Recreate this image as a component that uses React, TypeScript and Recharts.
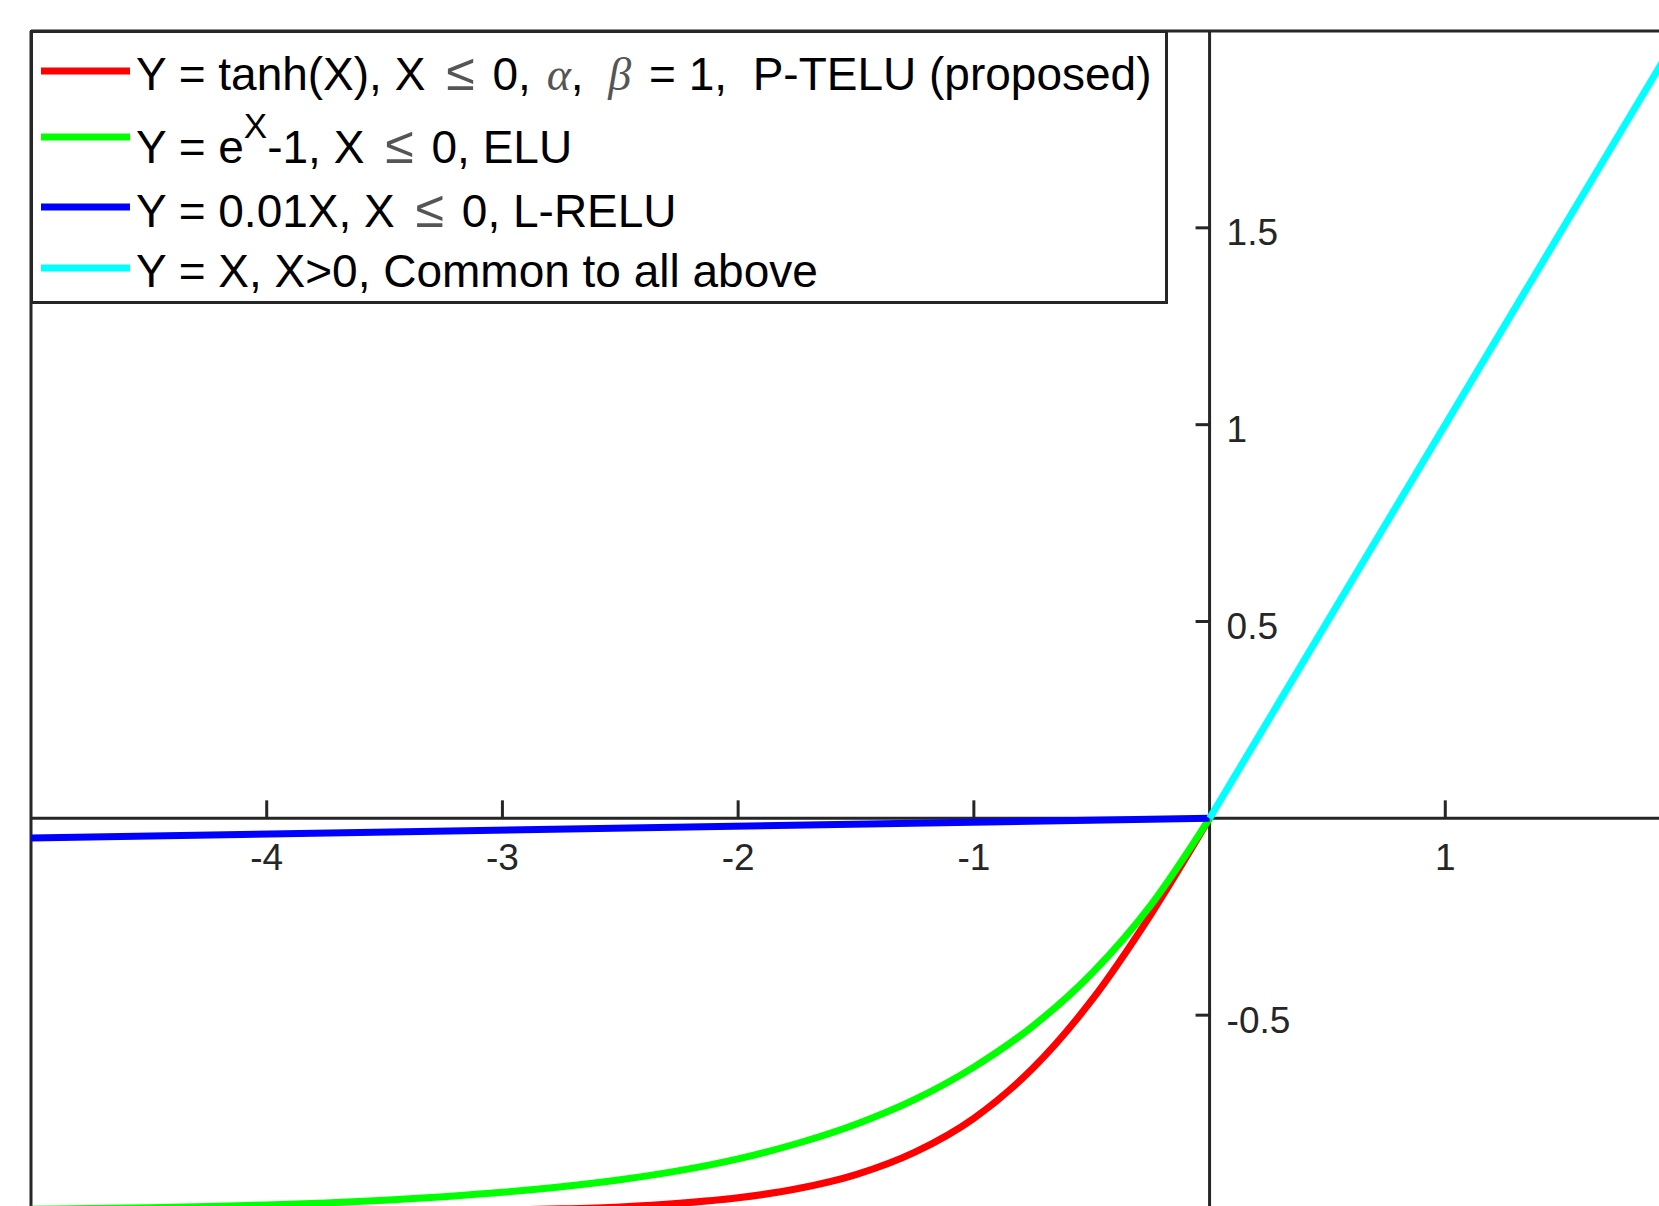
import React from 'react';
import { LineChart, Line, XAxis, YAxis, ReferenceLine, ReferenceDot, Legend } from 'recharts';

// sampled x positions for the x <= 0 branch
const xNeg = [-5, -4.75, -4.5, -4.25, -4, -3.75, -3.5, -3.25, -3, -2.75, -2.5, -2.25, -2, -1.75, -1.5, -1.25, -1, -0.75, -0.5, -0.25, 0];
// P-TELU, Y = tanh(X)
const teluY = [-1.0, -1.0, -1.0, -1.0, -0.999, -0.999, -0.998, -0.997, -0.995, -0.992, -0.987, -0.978, -0.964, -0.941, -0.905, -0.848, -0.762, -0.635, -0.462, -0.245, 0];
// ELU, Y = e^X - 1
const eluY = [-0.993, -0.991, -0.989, -0.986, -0.982, -0.977, -0.970, -0.961, -0.950, -0.936, -0.918, -0.895, -0.865, -0.826, -0.777, -0.714, -0.632, -0.528, -0.394, -0.221, 0];
// L-RELU
const lreluX = [-5, 0];
const lreluY = [-0.05, 0];
// X > 0 branch
const posX = [0, 2];
const posY = [0, 2];

const xTicks = [-4, -3, -2, -1, 1];
const yTicks = [-0.5, 0.5, 1, 1.5];

const colors = ['#ff0000', '#00ff00', '#0000ff', '#00ffff'];

const toPoints = (xs: number[], ys: number[]) => xs.map((x, i) => ({ x, y: ys[i] }));

const teluData = toPoints(xNeg, teluY);
const eluData = toPoints(xNeg, eluY);
const lreluData = toPoints(lreluX, lreluY);
const posData = toPoints(posX, posY);

const AXIS = '#262626';
const FONT = '"Liberation Sans", Arial, Helvetica, sans-serif';
const TEX = '"Liberation Serif", "Times New Roman", serif';

function XTickMark({ cx, cy, text }: any) {
  return (
    <g>
      <line x1={cx} y1={cy} x2={cx} y2={cy - 18} stroke={AXIS} strokeWidth={3} />
      <text x={cx} y={cy + 39} textAnchor="middle" dominantBaseline="central" fontSize={37} fontFamily={FONT} fill={AXIS}>
        {text}
      </text>
    </g>
  );
}

function YTickMark({ cx, cy, text }: any) {
  return (
    <g>
      <line x1={cx} y1={cy} x2={cx - 14} y2={cy} stroke={AXIS} strokeWidth={3} />
      <text x={cx + 17} y={cy + 5} textAnchor="start" dominantBaseline="central" fontSize={37} fontFamily={FONT} fill={AXIS}>
        {text}
      </text>
    </g>
  );
}

const leq = (
  <tspan dx={8} fontSize={52} fill="#555">≤</tspan>
);

function LegendBox() {
  const rowLine = [41, 107, 177, 238];
  const rowBase = [60, 133, 197, 257];
  const texts = [
    <>
      {'Y = tanh(X), X '}
      {leq}
      <tspan dx={5}>{' 0, '}</tspan>
      <tspan dx={3} fontFamily={TEX} fontStyle="italic" fill="#555">α</tspan>
      <tspan>{', '}</tspan>
      <tspan dx={12} fontFamily={TEX} fontStyle="italic" fill="#555">β</tspan>
      <tspan dx={5}>{' = 1,  P-TELU (proposed)'}</tspan>
    </>,
    <>
      {'Y = e'}
      <tspan dy={-25} fontSize={35}>X</tspan>
      <tspan dy={25}>{'-1, X '}</tspan>
      {leq}
      <tspan dx={5}>{' 0, ELU'}</tspan>
    </>,
    <>
      {'Y = 0.01X, X '}
      {leq}
      <tspan dx={5}>{' 0, L-RELU'}</tspan>
    </>,
    <>{'Y = X, X>0, Common to all above'}</>,
  ];
  return (
    <svg width={1138} height={274} style={{ display: 'block' }}>
      <rect x={1.5} y={1.5} width={1135} height={271} fill="#fff" stroke={AXIS} strokeWidth={3} />
      {texts.map((t, i) => (
        <g key={i}>
          <line x1={11} x2={100} y1={rowLine[i]} y2={rowLine[i]} stroke={colors[i]} strokeWidth={7} />
          <text x={106} y={rowBase[i]} fontSize={46} fontFamily={FONT} fill="#000" style={{ whiteSpace: 'pre' }}>
            {t}
          </text>
        </g>
      ))}
    </svg>
  );
}

export default function App() {
  return (
    <div style={{ position: 'absolute', left: 0, top: 0, width: 1659, height: 1206, overflow: 'hidden', background: '#fff' }}>
      <LineChart width={1700} height={1230} margin={{ top: 31, left: 31, right: 19, bottom: 18 }}>
        <XAxis type="number" dataKey="x" domain={[-5, 2]} allowDataOverflow hide />
        <YAxis type="number" dataKey="y" domain={[-1, 2]} allowDataOverflow hide />

        {/* box edges and origin axes */}
        <ReferenceLine y={2} stroke={AXIS} strokeWidth={3} />
        <ReferenceLine x={-5} stroke={AXIS} strokeWidth={3} />
        <ReferenceLine y={0} stroke={AXIS} strokeWidth={3} />
        <ReferenceLine x={0} stroke={AXIS} strokeWidth={3} />

        {xTicks.map((t) => (
          <ReferenceDot key={'x' + t} x={t} y={0} ifOverflow="visible" shape={(p: any) => <XTickMark cx={p.cx} cy={p.cy} text={String(t)} />} />
        ))}
        {yTicks.map((t) => (
          <ReferenceDot key={'y' + t} x={0} y={t} ifOverflow="visible" shape={(p: any) => <YTickMark cx={p.cx} cy={p.cy} text={String(t)} />} />
        ))}

        <Line data={teluData} dataKey="y" type="monotone" stroke={colors[0]} strokeWidth={7} dot={false} activeDot={false} isAnimationActive={false} />
        <Line data={eluData} dataKey="y" type="monotone" stroke={colors[1]} strokeWidth={7} dot={false} activeDot={false} isAnimationActive={false} />
        <Line data={lreluData} dataKey="y" type="linear" stroke={colors[2]} strokeWidth={7} dot={false} activeDot={false} isAnimationActive={false} />
        <Line data={posData} dataKey="y" type="linear" stroke={colors[3]} strokeWidth={7} dot={false} activeDot={false} isAnimationActive={false} />

        <Legend
          layout="horizontal"
          verticalAlign="middle"
          align="center"
          content={() => <LegendBox />}
          wrapperStyle={{ left: 30, top: 30, width: 1138, height: 274 }}
        />
      </LineChart>
    </div>
  );
}
